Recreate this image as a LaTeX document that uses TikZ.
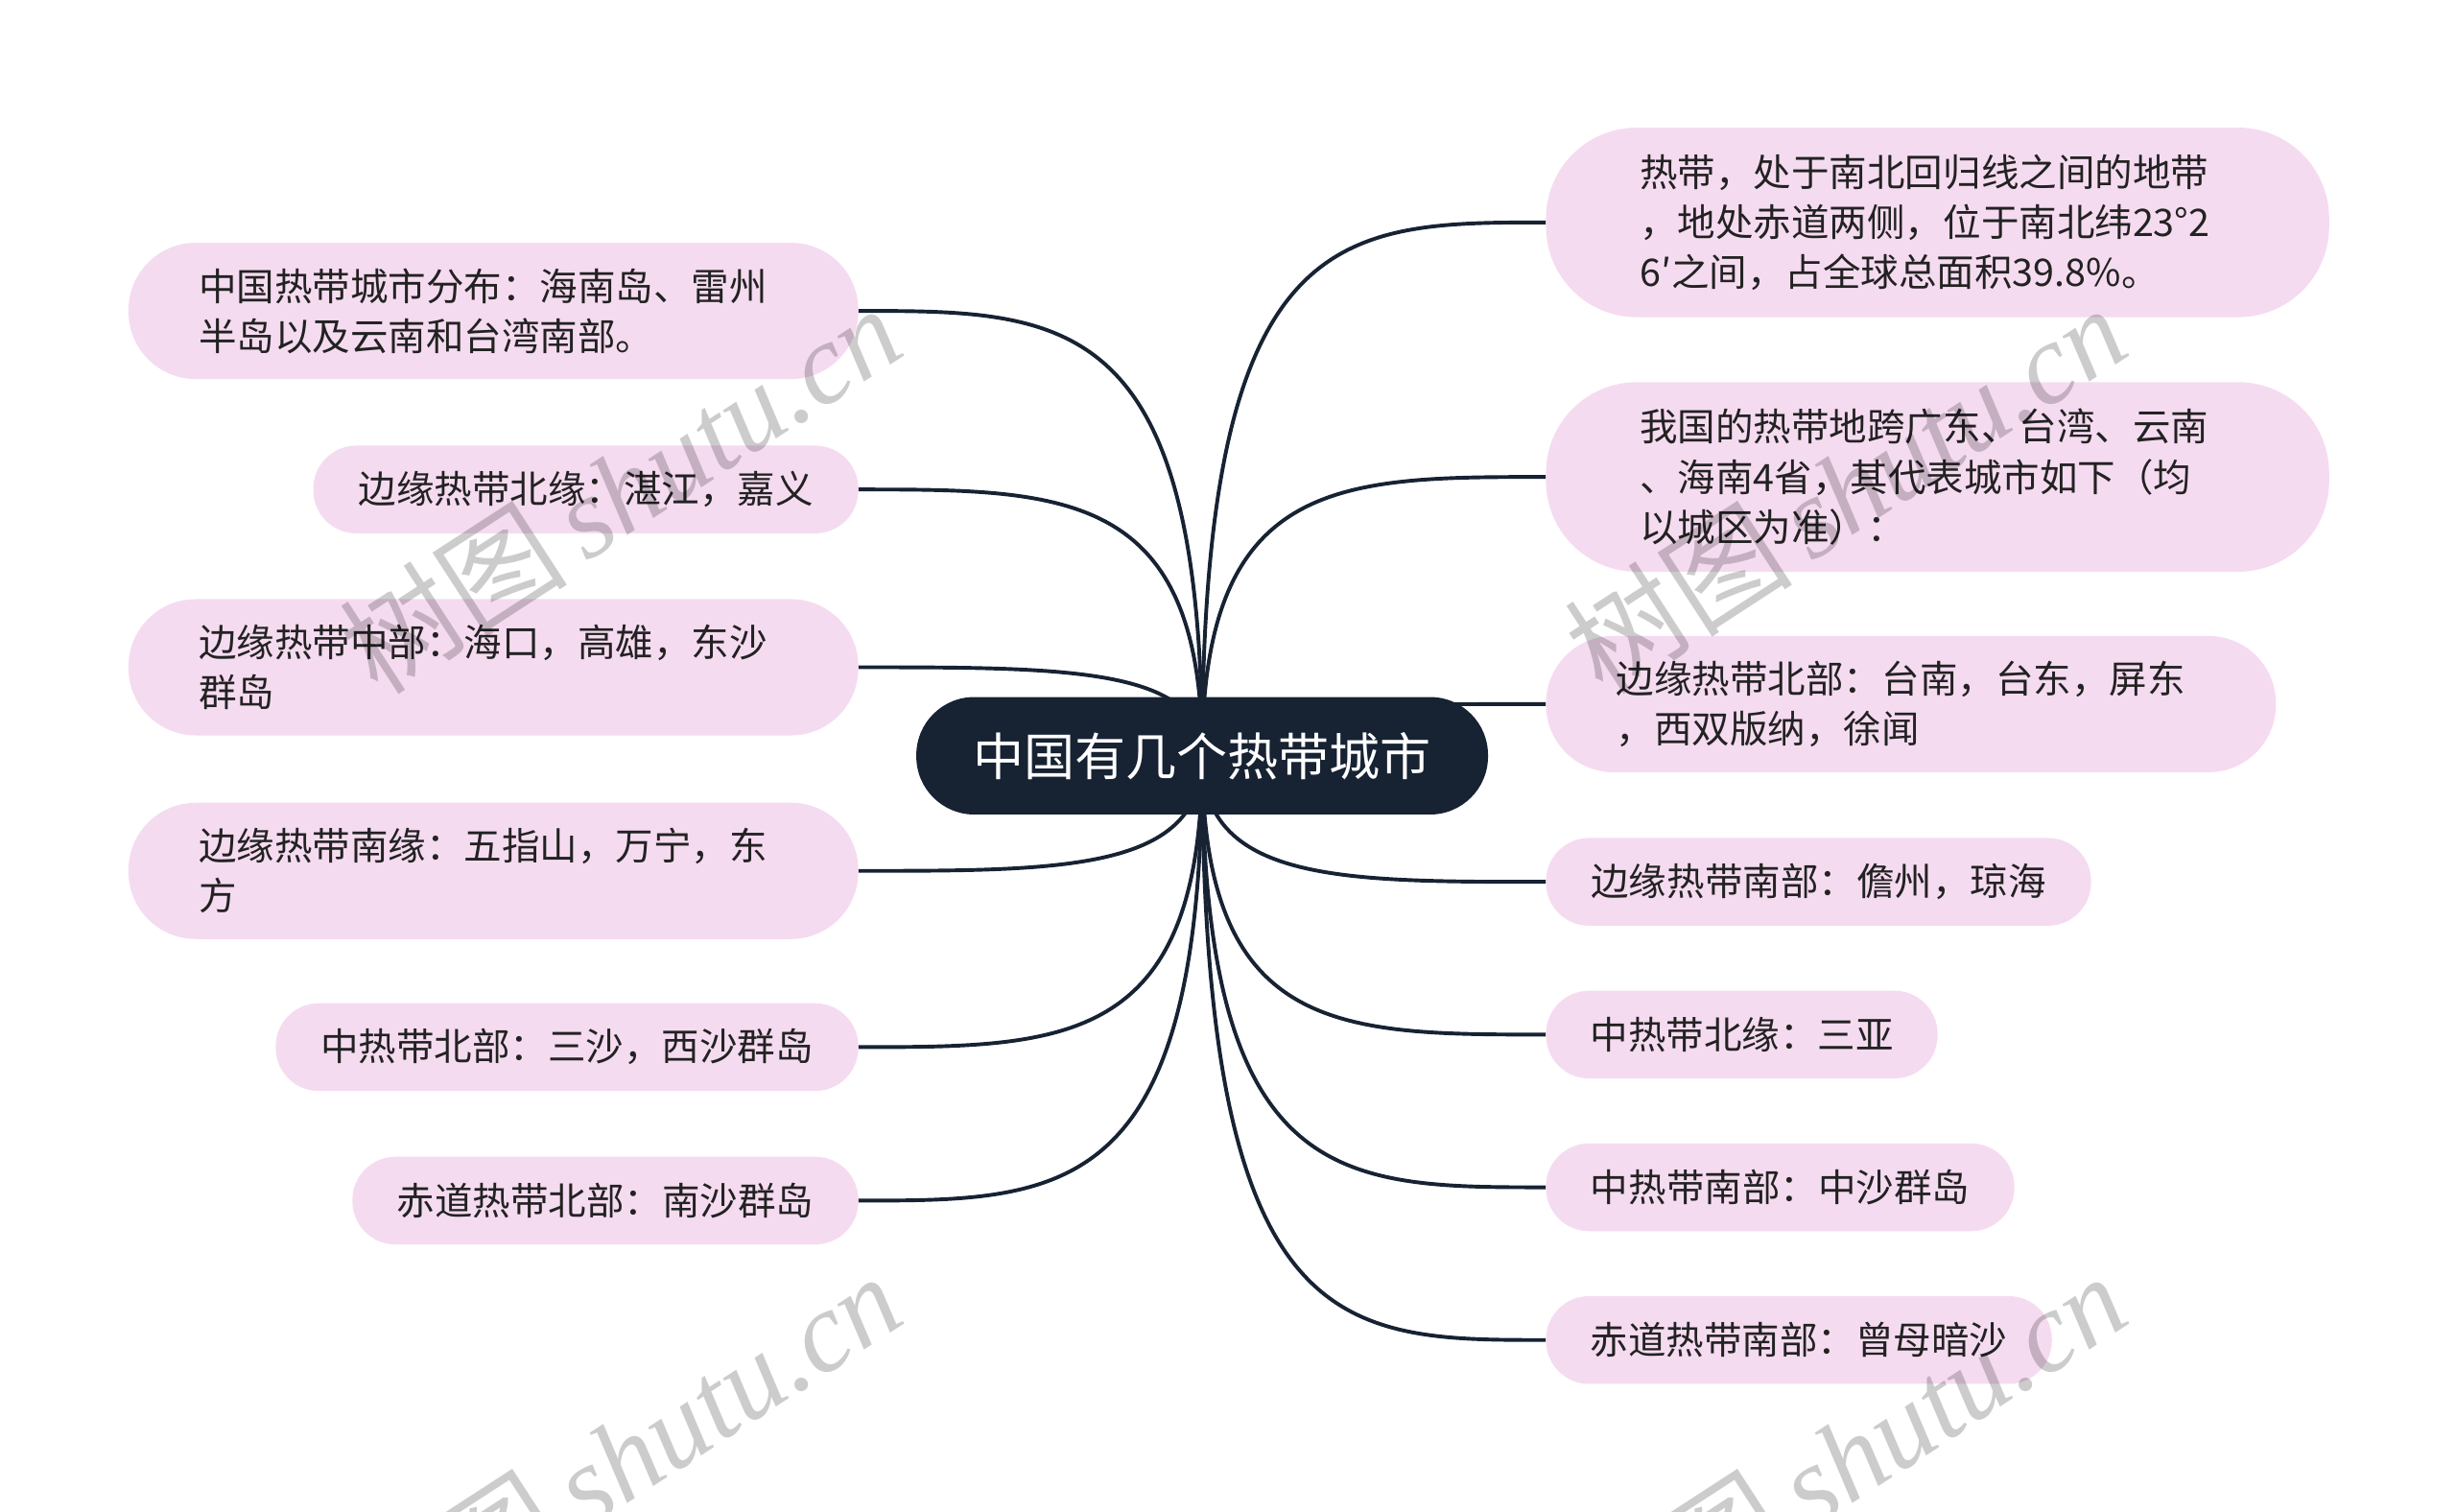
\documentclass[tikz,border=0pt]{standalone}
\usepackage{fontspec}
\setmainfont{Noto Sans CJK SC}
\newfontfamily\wmcjk{Noto Sans CJK SC}
\newfontfamily\wmlatin{Liberation Serif}
\usetikzlibrary{calc}
\pgfdeclarelayer{bg}
\pgfsetlayers{bg,main}
\definecolor{rootc}{RGB}{23,34,51}
\definecolor{leafc}{RGB}{245,219,240}
\definecolor{txtc}{RGB}{34,34,34}
\definecolor{linec}{RGB}{23,34,51}
\begin{document}
\begin{tikzpicture}[x=1pt,y=-1pt,
  leaf/.style={fill=leafc, text=txtc, font=\fontsize{24.2}{32}\selectfont, align=left, inner ysep=0pt, outer sep=0pt},
  oneline/.style={leaf, minimum height=56, rounded corners=27.5, inner xsep=0pt},
  twoline/.style={leaf, minimum height=87, rounded corners=43, inner xsep=45, text width=376},
  threeline/.style={leaf, minimum height=121, rounded corners=58, inner xsep=60, text width=380},
  rootnode/.style={fill=rootc, text=white, font=\fontsize{32.5}{38}\selectfont, minimum width=365, minimum height=75, rounded corners=37, inner sep=0pt},
  link/.style={draw=linec, line width=2.4pt, to path={.. controls ($(\tikztostart |- \tikztotarget)$) and ($(\tikztostart |- \tikztotarget)!0.4!(\tikztotarget)$) .. (\tikztotarget)}},
  wm/.style={text=black, opacity=.2, rotate=33, inner sep=0pt, font=\fontsize{73}{76}\selectfont}]
\useasboundingbox (0,0) rectangle (1568,965);

\node[rootnode] (root) at (767.5,482.5) {中国有几个热带城市};

% left
\node[twoline, anchor=east] (L1) at (548,198.5) {中国热带城市分布：海南岛、雷州\\半岛以及云南和台湾南部。};
\node[oneline, anchor=east, minimum width=348] (L2) at (548,312.5) {边缘热带北缘：湛江，嘉义};
\node[twoline, anchor=east] (L3) at (548,426) {边缘热带中部：海口，高雄，东沙\\群岛};
\node[twoline, anchor=east] (L4) at (548,556) {边缘热带南缘：五指山，万宁，东\\方};
\node[oneline, anchor=east, minimum width=372] (L5) at (548,668.5) {中热带北部：三沙，西沙群岛};
\node[oneline, anchor=east, minimum width=323] (L6) at (548,766.5) {赤道热带北部：南沙群岛};

% right
\node[threeline, anchor=west] (R1) at (987,142) {热带，处于南北回归线之间的地带\\，地处赤道两侧，位于南北纬23°2\\6′之间，占全球总面积39.8\%。};
\node[threeline, anchor=west] (R2) at (987,304.5) {我国的热带地跨广东、台湾、云南\\、海南4省，其代表城市如下（均\\以城区为准）：};
\node[twoline, anchor=west] (R3) at (987,449.5) {边缘热带北部：台南，台东，屏东\\，西双版纳，徐闻};
\node[oneline, anchor=west, minimum width=348] (R4) at (987,563) {边缘热带南部：儋州，琼海};
\node[oneline, anchor=west, minimum width=250] (R5) at (987,660.5) {中热带北缘：三亚};
\node[oneline, anchor=west, minimum width=299] (R6) at (987,758) {中热带南部：中沙群岛};
\node[oneline, anchor=west, minimum width=323] (R7) at (987,855.5) {赤道热带南部：曾母暗沙};

\begin{pgfonlayer}{bg}
  \foreach \n in {L1,L2,L3,L4,L5,L6} \draw[link] (root.center) to (\n.east);
  \foreach \n in {R1,R2,R3,R4,R5,R6,R7} \draw[link] (root.center) to (\n.west);
\end{pgfonlayer}

% watermarks
\node[wm] (wm1) at (396,312) {\wmcjk 树图\,{\wmlatin\itshape shutu.cn}};
\node[wm] (wm2) at (1178,312) {\wmcjk 树图\,{\wmlatin\itshape shutu.cn}};
\node[wm] (wm3) at (396,930) {\wmcjk 树图\,{\wmlatin\itshape shutu.cn}};
\node[wm] (wm4) at (1178,930) {\wmcjk 树图\,{\wmlatin\itshape shutu.cn}};
\end{tikzpicture}
\end{document}
